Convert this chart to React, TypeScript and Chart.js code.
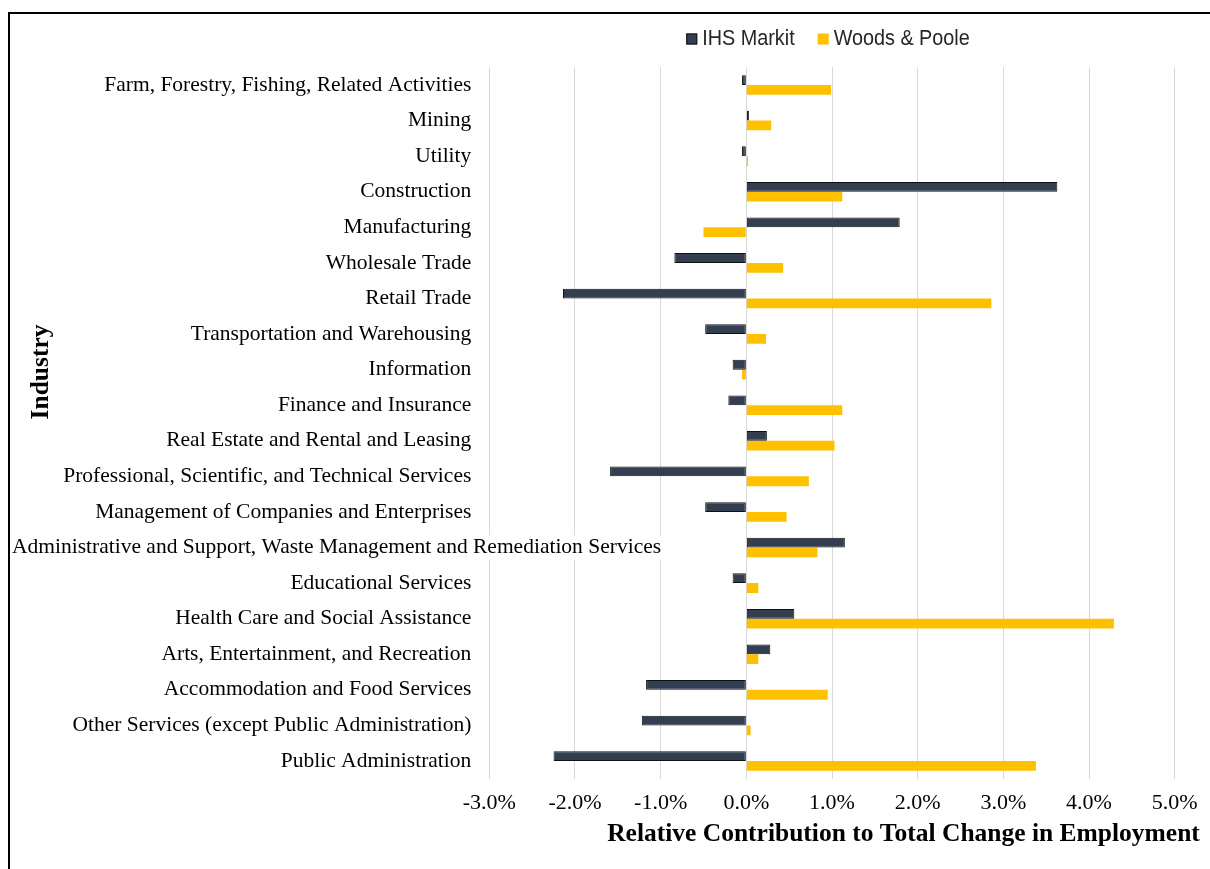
import React, { useEffect, useRef } from "react";
import { Chart, registerables } from "chart.js";

Chart.register(...registerables);

const categories = [
  "Farm, Forestry, Fishing, Related Activities",
  "Mining",
  "Utility",
  "Construction",
  "Manufacturing",
  "Wholesale Trade",
  "Retail Trade",
  "Transportation and Warehousing",
  "Information",
  "Finance and Insurance",
  "Real Estate and Rental and Leasing",
  "Professional, Scientific, and Technical Services",
  "Management of Companies and Enterprises",
  "Administrative and Support, Waste Management and Remediation Services",
  "Educational Services",
  "Health Care and Social Assistance",
  "Arts, Entertainment, and Recreation",
  "Accommodation and Food Services",
  "Other Services (except Public Administration)",
  "Public Administration",
];

const ihsMarkit = [
  -0.05, 0.03, -0.05, 3.63, 1.79, -0.84, -2.14, -0.48, -0.16, -0.21, 0.24, -1.59,
  -0.48, 1.15, -0.16, 0.56, 0.28, -1.17, -1.22, -2.25,
];

const woodsPoole = [
  0.99, 0.29, 0.02, 1.12, -0.5, 0.43, 2.86, 0.23, -0.05, 1.12, 1.03, 0.73, 0.47,
  0.83, 0.14, 4.29, 0.14, 0.95, 0.05, 3.38,
];

const seriesNames = ["IHS Markit", "Woods & Poole"];
const xMin = -3;
const xMax = 5;
const xStep = 1;
const xTitle = "Relative Contribution to Total Change in Employment";
const yTitle = "Industry";

const IHS_COLOR = "#333f50";
const IHS_BORDER = "#111111";
const WP_COLOR = "#ffc000";

const SERIF = '"Liberation Serif", "Times New Roman", serif';
const SANS = '"Liberation Sans", Arial, sans-serif';

const textPlugin = {
  id: "customText",
  afterDraw(chart: any) {
    const ctx = chart.ctx as CanvasRenderingContext2D;
    const y = chart.scales.y;
    const area = chart.chartArea;
    ctx.save();

    // Category labels
    ctx.font = `21.5px ${SERIF}`;
    ctx.textBaseline = "middle";
    const rightX = area.left - 18;
    categories.forEach((c, i) => {
      const py = y.getPixelForValue(i);
      const w = ctx.measureText(c).width;
      if (w > rightX - 2) {
        ctx.fillStyle = "#ffffff";
        ctx.fillRect(2, py - 12, w + 2, 24);
        ctx.fillStyle = "#000000";
        ctx.textAlign = "left";
        ctx.fillText(c, 2, py);
      } else {
        ctx.fillStyle = "#000000";
        ctx.textAlign = "right";
        ctx.fillText(c, rightX, py);
      }
    });

    // X axis title
    ctx.font = `bold 25.5px ${SERIF}`;
    ctx.fillStyle = "#000000";
    ctx.textAlign = "center";
    ctx.textBaseline = "middle";
    ctx.fillText(xTitle, 893.5, 820);

    // Y axis title
    ctx.save();
    ctx.translate(31, 358);
    ctx.rotate(-Math.PI / 2);
    ctx.font = `bold 25.5px ${SERIF}`;
    ctx.textAlign = "center";
    ctx.textBaseline = "middle";
    ctx.fillText(yTitle, 0, 0);
    ctx.restore();

    // Legend (condensed sans text)
    ctx.font = `22px ${SANS}`;
    ctx.textBaseline = "middle";
    ctx.textAlign = "left";
    const sx = 0.9;
    const sq = 11;
    const gap = 5;
    const spacing = 23;
    const w1 = ctx.measureText(seriesNames[0]).width * sx;
    const w2 = ctx.measureText(seriesNames[1]).width * sx;
    const total = sq + gap + w1 + spacing + sq + gap + w2;
    let lx = (area.left + area.right) / 2 - 4 - total / 2;
    const ly = 25;
    const drawText = (t: string, x: number) => {
      ctx.save();
      ctx.translate(x, ly);
      ctx.scale(sx, 1);
      ctx.fillStyle = "#262626";
      ctx.fillText(t, 0, 0);
      ctx.restore();
    };
    ctx.fillStyle = IHS_COLOR;
    ctx.fillRect(lx, ly - sq / 2, sq, sq);
    ctx.strokeStyle = IHS_BORDER;
    ctx.lineWidth = 1;
    ctx.strokeRect(lx + 0.5, ly - sq / 2 + 0.5, sq - 1, sq - 1);
    drawText(seriesNames[0], lx + sq + gap);
    lx += sq + gap + w1 + spacing;
    ctx.fillStyle = WP_COLOR;
    ctx.fillRect(lx, ly - sq / 2, sq, sq);
    drawText(seriesNames[1], lx + sq + gap);

    ctx.restore();
  },
};

export default function App() {
  const canvasRef = useRef<HTMLCanvasElement | null>(null);

  useEffect(() => {
    document.body.style.overflow = "hidden";
    document.documentElement.style.overflow = "hidden";
    const canvas = canvasRef.current;
    if (!canvas) return;
    const chart = new Chart(canvas, {
      type: "bar",
      data: {
        labels: categories,
        datasets: [
          {
            label: seriesNames[0],
            data: ihsMarkit,
            backgroundColor: IHS_COLOR,
            borderColor: IHS_BORDER,
            borderWidth: 1,
            borderSkipped: false,
            categoryPercentage: 0.55,
            barPercentage: 1,
          },
          {
            label: seriesNames[1],
            data: woodsPoole,
            backgroundColor: WP_COLOR,
            borderWidth: 0,
            categoryPercentage: 0.55,
            barPercentage: 1,
          },
        ],
      },
      options: {
        indexAxis: "y",
        responsive: false,
        animation: false,
        devicePixelRatio: 1,
        layout: {
          padding: { left: 479.3, right: 35.3, top: 53.2, bottom: 50.2 },
        },
        plugins: {
          legend: { display: false },
          tooltip: { enabled: false },
          title: { display: false },
        },
        scales: {
          x: {
            type: "linear",
            min: xMin,
            max: xMax,
            border: { display: false },
            grid: {
              color: "#d9d9d9",
              lineWidth: 1,
              drawTicks: false,
              tickLength: 0,
            },
            ticks: {
              stepSize: xStep,
              autoSkip: false,
              maxRotation: 0,
              padding: 11,
              color: "#000000",
              font: { family: SERIF, size: 22 },
              callback: (v: any) => Number(v).toFixed(1) + "%",
            },
            afterFit: (scale: any) => {
              scale.height = 40;
            },
          },
          y: {
            type: "category",
            display: false,
          },
        },
      },
      plugins: [textPlugin],
    });
    return () => chart.destroy();
  }, []);

  return (
    <div
      style={{
        position: "absolute",
        left: 8,
        top: 12,
        borderLeft: "2px solid #000",
        borderTop: "2px solid #000",
        width: 1200,
        height: 855,
        background: "#fff",
      }}
    >
      <canvas
        ref={canvasRef}
        width={1200}
        height={855}
        style={{ display: "block", width: 1200, height: 855 }}
      />
    </div>
  );
}
